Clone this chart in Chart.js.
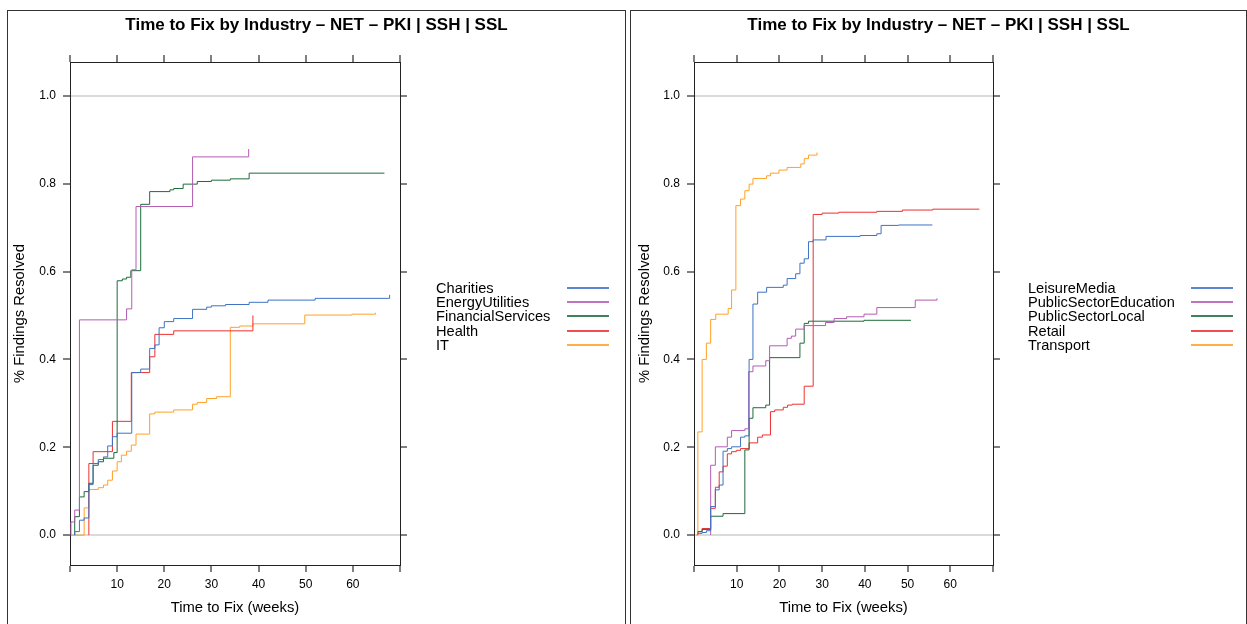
<!DOCTYPE html>
<html>
<head>
<meta charset="utf-8">
<script src="https://cdn.jsdelivr.net/npm/chart.js@4.4.1/dist/chart.umd.min.js"></script>
<style>
  html, body { margin: 0; padding: 0; background: #fff; overflow: hidden; }
  body { width: 1247px; height: 624px; position: relative; font-family: "Liberation Sans", Arial, sans-serif; }
  .frame { position: absolute; top: 10px; height: 640px; border: 1px solid #333; }
  .frame canvas { position: absolute; left: 0; top: 0; }
  .key { position: absolute; font-size: 14.6px; color: #000; }
  .key .row { position: absolute; left: 0; height: 14px; line-height: 14px; white-space: nowrap; }
  .key .swatch { position: absolute; top: 6px; width: 42px; height: 2px; opacity: 0.85; }
</style>
</head>
<body>
<div class="frame" style="left:7px; width:617px;"><canvas id="left" width="617" height="613"></canvas></div>
<div class="frame" style="left:630px; width:615px;"><canvas id="right" width="615" height="613"></canvas></div>
<div class="key" id="leftKey" style="left:436px; top:281px;"></div>
<div class="key" id="rightKey" style="left:1028px; top:281px;"></div>
<script>
const chartTitle = 'Time to Fix by Industry – NET – PKI | SSH | SSL';
const xTitle = 'Time to Fix (weeks)';
const yTitle = '% Findings Resolved';

const xTickValues = [0, 10, 20, 30, 40, 50, 60, 70];
const xTickLabels = ['', '10', '20', '30', '40', '50', '60', ''];
const yTickValues = [0, 0.2, 0.4, 0.6, 0.8, 1.0];
const yTickLabels = ['0.0', '0.2', '0.4', '0.6', '0.8', '1.0'];

const seriesColors = ['#3d72c4', '#b35cb3', '#1d6b3b', '#ee3030', '#ffa126'];

// left panel
const leftNames = ['Charities', 'EnergyUtilities', 'FinancialServices', 'Health', 'IT'];

const charitiesWeeks = [1.0, 1.0, 2.0, 3.0, 4.0, 4.9, 6.0, 7.1, 8.0, 9.0, 10.0, 13.1, 15.0, 16.9, 18.0, 18.9, 20.0, 22.0, 26.0, 29.0, 30.0, 33.0, 38.0, 42.0, 52.0, 67.8];
const charitiesPct = [0, 0.008, 0.034, 0.039, 0.115, 0.163, 0.172, 0.178, 0.203, 0.224, 0.232, 0.37, 0.378, 0.425, 0.433, 0.472, 0.486, 0.493, 0.514, 0.519, 0.522, 0.525, 0.530, 0.535, 0.539, 0.547];

const energyWeeks = [0.2, 0.2, 1.0, 2.0, 12.0, 13.1, 14.0, 26.0, 37.9];
const energyPct = [0, 0.03, 0.057, 0.49, 0.515, 0.604, 0.748, 0.861, 0.879];

const financialWeeks = [1.0, 1.0, 2.0, 3.0, 4.0, 4.9, 6.0, 7.1, 9.3, 10.0, 11.1, 12.0, 12.9, 15.0, 16.9, 21.2, 22.0, 24.0, 27.0, 30.0, 34.0, 38.0, 66.7];
const financialPct = [0, 0.042, 0.087, 0.099, 0.118, 0.159, 0.167, 0.175, 0.188, 0.579, 0.583, 0.587, 0.602, 0.753, 0.782, 0.786, 0.789, 0.799, 0.805, 0.808, 0.811, 0.824, 0.824];

const healthWeeks = [4.0, 4.0, 4.9, 9.0, 13.0, 16.9, 18.0, 22.0, 38.8];
const healthPct = [0, 0.163, 0.19, 0.259, 0.37, 0.406, 0.457, 0.465, 0.50];

const itWeeks = [0.2, 3.0, 4.0, 6.0, 7.1, 8.0, 9.0, 10.0, 10.9, 12.0, 13.0, 14.0, 16.9, 18.0, 22.0, 26.0, 27.0, 29.0, 31.1, 34.0, 36.0, 38.8, 49.8, 59.8, 64.8];
const itPct = [0, 0.062, 0.104, 0.108, 0.114, 0.125, 0.146, 0.167, 0.182, 0.191, 0.205, 0.23, 0.276, 0.28, 0.285, 0.298, 0.302, 0.311, 0.315, 0.473, 0.476, 0.481, 0.501, 0.503, 0.506];

// right panel
const rightNames = ['LeisureMedia', 'PublicSectorEducation', 'PublicSectorLocal', 'Retail', 'Transport'];

const leisureWeeks = [0.9, 1.9, 2.9, 3.9, 5.0, 5.9, 6.8, 7.8, 8.8, 10.9, 11.9, 12.9, 13.8, 14.9, 17.0, 20.9, 21.8, 23.8, 24.8, 25.8, 26.8, 27.9, 30.9, 38.9, 42.8, 43.8, 47.9, 55.8];
const leisurePct = [0.004, 0.006, 0.01, 0.065, 0.103, 0.114, 0.191, 0.197, 0.201, 0.223, 0.226, 0.40, 0.526, 0.553, 0.564, 0.569, 0.584, 0.595, 0.619, 0.629, 0.668, 0.672, 0.68, 0.682, 0.686, 0.705, 0.706, 0.706];

const educationWeeks = [3.9, 3.9, 5.0, 7.8, 8.8, 11.9, 12.8, 13.8, 16.8, 17.7, 21.8, 22.8, 23.8, 25.8, 30.8, 32.8, 35.7, 39.8, 42.8, 51.8, 56.9];
const educationPct = [0, 0.159, 0.201, 0.223, 0.238, 0.242, 0.372, 0.385, 0.397, 0.431, 0.448, 0.453, 0.469, 0.477, 0.484, 0.493, 0.497, 0.503, 0.518, 0.535, 0.539];

const localWeeks = [0.9, 1.9, 3.9, 6.8, 11.9, 12.9, 13.8, 16.8, 17.7, 24.8, 25.8, 26.8, 39.8, 50.8];
const localPct = [0.008, 0.013, 0.043, 0.049, 0.194, 0.266, 0.29, 0.296, 0.404, 0.437, 0.482, 0.487, 0.489, 0.489];

const retailWeeks = [0.9, 0.9, 1.9, 3.9, 5.0, 5.9, 6.8, 7.8, 8.8, 9.9, 10.9, 12.9, 14.9, 16.0, 17.9, 18.9, 20.9, 21.9, 23.0, 25.8, 27.9, 30.0, 33.9, 42.8, 48.8, 55.9, 66.8];
const retailPct = [0, 0.008, 0.015, 0.061, 0.109, 0.144, 0.157, 0.185, 0.19, 0.193, 0.197, 0.21, 0.223, 0.228, 0.281, 0.285, 0.291, 0.296, 0.298, 0.339, 0.73, 0.733, 0.735, 0.737, 0.74, 0.742, 0.742];

const transportWeeks = [0.5, 0.9, 1.9, 2.9, 3.9, 5.1, 8.0, 8.8, 9.8, 10.9, 11.9, 12.9, 13.8, 17.0, 17.9, 19.9, 21.8, 25.0, 25.8, 26.8, 28.8];
const transportPct = [0, 0.235, 0.40, 0.437, 0.491, 0.503, 0.516, 0.558, 0.75, 0.765, 0.784, 0.799, 0.812, 0.818, 0.824, 0.831, 0.837, 0.845, 0.857, 0.865, 0.871];

Chart.defaults.font.family = '"Liberation Sans", Arial, sans-serif';
Chart.defaults.color = '#000';

function tickGrid(onArea) {
  return {
    drawOnChartArea: onArea,
    drawTicks: true,
    tickLength: 7,
    tickColor: '#000',
    tickWidth: 1,
    lineWidth: 2,
    color: ctx => (onArea && ctx.tick && (ctx.tick.value === 0 || ctx.tick.value === 1)) ? '#dadada' : 'rgba(0,0,0,0)'
  };
}

function makePanel(id, names, weeks, pcts, box) {
  const datasets = names.map((name, i) => ({
    label: name,
    data: weeks[i].map((w, j) => ({ x: w, y: pcts[i][j] })),
    borderColor: seriesColors[i],
    borderWidth: 1,
    pointRadius: 0,
    showLine: true,
    stepped: 'before',
    fill: false
  }));
  const border = { display: true, color: '#222', width: 1 };
  const setX = s => { s.ticks = xTickValues.map(v => ({ value: v })); };
  const setY = s => { s.ticks = yTickValues.map(v => ({ value: v })); };

  new Chart(document.getElementById(id), {
    type: 'scatter',
    data: { datasets },
    options: {
      responsive: false,
      animation: false,
      devicePixelRatio: 1,
      layout: { padding: 0 },
      plugins: {
        legend: { display: false },
        tooltip: { enabled: false },
        title: { display: true, text: chartTitle, color: '#000', font: { size: 17, weight: 'bold' }, padding: { top: 4, bottom: 0 } }
      },
      scales: {
        x: {
          type: 'linear', axis: 'x', position: 'bottom', min: 0, max: 70,
          afterBuildTicks: setX,
          afterFit: s => { s.height = box.bottomH; },
          ticks: { callback: (v, i) => xTickLabels[i], autoSkip: false, maxRotation: 0, padding: 5, font: { size: 12 } },
          grid: tickGrid(false),
          border,
          title: { display: true, text: xTitle, font: { size: 14.8 }, padding: { top: 0, bottom: 7 } }
        },
        xTop: {
          type: 'linear', axis: 'x', position: 'top', min: 0, max: 70,
          afterBuildTicks: setX,
          afterFit: s => { s.height = box.topH; },
          ticks: { display: false },
          grid: tickGrid(false),
          border
        },
        y: {
          type: 'linear', axis: 'y', position: 'left', min: -0.068, max: 1.077,
          afterBuildTicks: setY,
          afterFit: s => { s.width = box.leftW; },
          ticks: { callback: (v, i) => yTickLabels[i], autoSkip: false, padding: 7, font: { size: 12 } },
          grid: tickGrid(true),
          border,
          title: { display: true, text: yTitle, font: { size: 14.8 }, padding: { top: box.yTitlePad, bottom: 0 } }
        },
        yRight: {
          type: 'linear', axis: 'y', position: 'right', min: -0.068, max: 1.077,
          afterBuildTicks: setY,
          afterFit: s => { s.width = box.rightW; },
          ticks: { display: false },
          grid: tickGrid(false),
          border
        }
      }
    }
  });
}

function makeKey(id, names) {
  const key = document.getElementById(id);
  const swatchLeft = id === 'leftKey' ? 131 : 163;
  names.forEach((name, i) => {
    const row = document.createElement('div');
    row.className = 'row';
    row.style.top = Math.round(i * 14.2) + 'px';
    row.textContent = name;
    const sw = document.createElement('div');
    sw.className = 'swatch';
    sw.style.left = swatchLeft + 'px';
    sw.style.background = seriesColors[i];
    row.appendChild(sw);
    key.appendChild(row);
  });
}

makePanel('left', leftNames,
  [charitiesWeeks, energyWeeks, financialWeeks, healthWeeks, itWeeks],
  [charitiesPct, energyPct, financialPct, healthPct, itPct],
  { leftW: 62, rightW: 225, topH: 26.6, bottomH: 59, yTitlePad: 3.3 });

makePanel('right', rightNames,
  [leisureWeeks, educationWeeks, localWeeks, retailWeeks, transportWeeks],
  [leisurePct, educationPct, localPct, retailPct, transportPct],
  { leftW: 63, rightW: 253, topH: 26.6, bottomH: 59, yTitlePad: 5.3 });

makeKey('leftKey', leftNames);
makeKey('rightKey', rightNames);
</script>
</body>
</html>
